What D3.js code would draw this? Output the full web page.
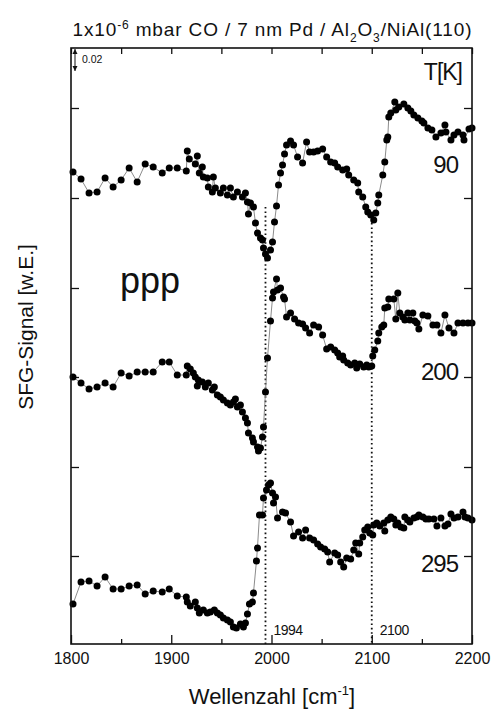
<!DOCTYPE html>
<html>
<head>
<meta charset="utf-8">
<script src="https://cdn.jsdelivr.net/npm/d3@7"></script>
<style>
body { margin: 0; background: #fff; }
svg text { font-family: "Liberation Sans", Arial, Helvetica, sans-serif; fill: #111; }
</style>
</head>
<body>
<svg id="chart" width="493" height="711"></svg>
<script>
// SFG spectra, wavenumber [cm-1] vs. signal (arb. units)
var data90 = [[1802,.474],[1810,.467],[1818,.453],[1826,.454],[1834,.468],[1842,.459],[1850,.466],[1858,.478],[1866,.464],[1874,.482],[1882,.479],[1891,.473],[1898,.478],[1906,.478],[1915,.475],[1916,.495],[1918,.487],[1924,.482],[1926,.490],[1928,.473],[1931,.479],[1932,.469],[1936,.468],[1937,.459],[1941,.454],[1942,.469],[1944,.458],[1949,.453],[1952,.458],[1956,.451],[1959,.458],[1962,.449],[1966,.454],[1971,.449],[1974,.453],[1976,.444],[1977,.432],[1979,.443],[1982,.439],[1984,.423],[1986,.413],[1989,.408],[1991,.406],[1992,.398],[1994,.392],[1996,.388],[1999,.396],[2001,.404],[2003,.424],[2005,.440],[2007,.461],[2009,.473],[2011,.481],[2013,.492],[2015,.501],[2019,.505],[2022,.501],[2026,.489],[2031,.483],[2035,.504],[2038,.494],[2042,.494],[2046,.495],[2051,.497],[2055,.489],[2059,.484],[2063,.483],[2066,.479],[2071,.476],[2075,.477],[2077,.471],[2082,.466],[2086,.463],[2087,.454],[2091,.449],[2094,.439],[2096,.434],[2099,.431],[2102,.426],[2104,.433],[2106,.443],[2107,.451],[2111,.471],[2113,.484],[2115,.506],[2116,.509],[2117,.529],[2119,.533],[2123,.544],[2124,.536],[2127,.539],[2132,.542],[2136,.538],[2139,.535],[2142,.531],[2146,.528],[2150,.525],[2152,.523],[2156,.518],[2160,.516],[2164,.509],[2169,.513],[2173,.521],[2174,.514],[2179,.506],[2182,.511],[2186,.514],[2191,.511],[2192,.506],[2197,.517],[2200,.518]];

var data200 = [[1802,.269],[1810,.263],[1818,.257],[1826,.259],[1834,.263],[1842,.259],[1850,.273],[1858,.270],[1866,.274],[1874,.274],[1882,.274],[1891,.284],[1898,.284],[1906,.271],[1915,.271],[1916,.280],[1919,.277],[1922,.273],[1924,.269],[1926,.260],[1927,.266],[1931,.264],[1934,.259],[1937,.263],[1941,.256],[1943,.259],[1946,.251],[1949,.249],[1952,.246],[1956,.243],[1959,.241],[1962,.244],[1964,.247],[1966,.239],[1969,.241],[1971,.234],[1974,.228],[1976,.223],[1977,.213],[1981,.208],[1982,.204],[1986,.199],[1987,.195],[1989,.198],[1991,.209],[1992,.219],[1994,.254],[1996,.288],[1999,.325],[2001,.348],[2002,.354],[2005,.367],[2006,.356],[2009,.358],[2012,.349],[2013,.347],[2015,.329],[2019,.333],[2023,.327],[2027,.323],[2031,.322],[2034,.318],[2038,.313],[2042,.321],[2047,.319],[2051,.311],[2055,.297],[2059,.299],[2063,.296],[2066,.293],[2068,.289],[2071,.290],[2072,.286],[2076,.283],[2079,.281],[2083,.283],[2085,.278],[2088,.282],[2092,.279],[2095,.281],[2097,.279],[2100,.280],[2101,.290],[2103,.296],[2106,.305],[2107,.313],[2110,.319],[2112,.321],[2113,.338],[2116,.339],[2117,.347],[2122,.347],[2124,.327],[2126,.353],[2128,.333],[2131,.329],[2133,.326],[2136,.333],[2138,.326],[2141,.333],[2143,.325],[2145,.323],[2147,.317],[2151,.331],[2156,.330],[2161,.321],[2165,.321],[2169,.313],[2173,.331],[2177,.318],[2182,.313],[2186,.323],[2191,.323],[2196,.323],[2200,.323]];

var data295 = [[1802,.042],[1810,.064],[1818,.065],[1826,.060],[1834,.069],[1842,.057],[1850,.057],[1858,.060],[1866,.061],[1874,.052],[1882,.055],[1891,.054],[1898,.057],[1906,.050],[1915,.049],[1916,.044],[1919,.040],[1924,.044],[1926,.038],[1928,.033],[1932,.036],[1936,.033],[1939,.034],[1943,.036],[1946,.033],[1949,.031],[1952,.028],[1956,.026],[1959,.024],[1962,.019],[1965,.018],[1969,.022],[1972,.019],[1974,.023],[1976,.032],[1978,.042],[1981,.044],[1982,.053],[1985,.085],[1986,.098],[1988,.131],[1991,.131],[1992,.148],[1995,.156],[1997,.161],[1999,.163],[2001,.153],[2002,.143],[2004,.149],[2006,.128],[2011,.134],[2014,.133],[2019,.124],[2022,.110],[2027,.114],[2031,.108],[2034,.116],[2038,.108],[2042,.106],[2046,.102],[2049,.099],[2053,.097],[2056,.094],[2058,.084],[2063,.093],[2066,.091],[2069,.084],[2072,.079],[2075,.088],[2079,.087],[2082,.096],[2084,.103],[2087,.092],[2088,.103],[2091,.109],[2093,.116],[2096,.119],[2098,.113],[2101,.111],[2102,.121],[2105,.123],[2108,.120],[2112,.123],[2113,.115],[2116,.126],[2119,.129],[2122,.127],[2124,.121],[2126,.123],[2129,.119],[2132,.118],[2133,.129],[2136,.126],[2138,.124],[2142,.128],[2145,.129],[2147,.131],[2151,.129],[2154,.127],[2157,.127],[2162,.127],[2165,.120],[2169,.128],[2173,.120],[2176,.122],[2179,.132],[2182,.128],[2186,.129],[2191,.134],[2193,.129],[2196,.128],[2200,.126]];

var temps = ["90", "200", "295"];
var xTicks = [1800, 1900, 2000, 2100, 2200];
var xMinorTicks = [1850, 1950, 2050, 2150];
var yTicks = [0.090, 0.179, 0.269, 0.358, 0.448, 0.538];
var markerLines = [1994, 2100];
var markerTops = [0.439, 0.423];

var svg = d3.select("#chart");
var pLeft = 71, pRight = 472, pTop = 48, pBottom = 644;

var x = d3.scaleLinear().domain([1800, 2200]).range([pLeft, pRight]);
var y = d3.scaleLinear().domain([0.002, 0.598]).range([pBottom, pTop]);

// title
var title = svg.append("text")
    .attr("x", 272).attr("y", 36)
    .attr("text-anchor", "middle")
    .attr("textLength", 399).attr("lengthAdjust", "spacing")
    .style("font-size", "19px");
title.append("tspan").text("1x10");
title.append("tspan").attr("dy", -7).style("font-size", "12px").text("-6");
title.append("tspan").attr("dy", 7).text(" mbar CO / 7 nm Pd / Al");
title.append("tspan").attr("dy", 6).style("font-size", "12px").text("2");
title.append("tspan").attr("dy", -6).text("O");
title.append("tspan").attr("dy", 6).style("font-size", "12px").text("3");
title.append("tspan").attr("dy", -6).text("/NiAl(110)");

// axes, ticks point inwards
function clean(g) { g.select(".domain").remove(); g.selectAll("line").attr("stroke", "#111").attr("stroke-width", 1.3); }

svg.append("g").attr("transform", "translate(0," + pBottom + ")")
    .call(d3.axisBottom(x).tickValues(xTicks).tickSize(-9).tickPadding(9).tickFormat(d3.format("d")))
    .call(clean)
    .selectAll("text").style("font-size", "16px").attr("fill", "#111");
svg.append("g").attr("transform", "translate(0," + pBottom + ")")
    .call(d3.axisBottom(x).tickValues(xMinorTicks).tickSize(-5).tickFormat(""))
    .call(clean);
svg.append("g").attr("transform", "translate(0," + pTop + ")")
    .call(d3.axisTop(x).tickValues(xTicks.concat(xMinorTicks)).tickSize(-6).tickFormat(""))
    .call(clean);
svg.append("g").attr("transform", "translate(" + pLeft + ",0)")
    .call(d3.axisLeft(y).tickValues(yTicks).tickSize(-8).tickFormat(""))
    .call(clean);
svg.append("g").attr("transform", "translate(" + pRight + ",0)")
    .call(d3.axisRight(y).tickValues(yTicks).tickSize(-8).tickFormat(""))
    .call(clean);

// dotted reference lines
markerLines.forEach(function(w, i) {
    svg.append("line")
        .attr("x1", x(w)).attr("x2", x(w))
        .attr("y1", y(markerTops[i])).attr("y2", pBottom)
        .attr("stroke", "#111").attr("stroke-width", 1.8)
        .attr("stroke-dasharray", "1.6,2.8");
    svg.append("text")
        .attr("x", x(w) + 8).attr("y", 635)
        .style("font-size", "14px").style("letter-spacing", "-0.5px")
        .text(w);
});

// spectra
var line = d3.line().x(function(d) { return x(d[0]); }).y(function(d) { return y(d[1]); });
[data90, data200, data295].forEach(function(series) {
    svg.append("path").datum(series)
        .attr("d", line)
        .attr("fill", "none")
        .attr("stroke", "#8c8c8c")
        .attr("stroke-width", 1);
    svg.append("g").selectAll("circle")
        .data(series)
        .enter()
        .append("circle")
        .attr("cx", function(d) { return x(d[0]); })
        .attr("cy", function(d) { return y(d[1]); })
        .attr("r", 3.5)
        .attr("fill", "#000");
});

// frame
svg.append("rect")
    .attr("x", pLeft).attr("y", pTop)
    .attr("width", pRight - pLeft).attr("height", pBottom - pTop)
    .attr("fill", "none").attr("stroke", "#111").attr("stroke-width", 1.6);

// scale bar 0.02
var barTop = pTop + 1, barLen = y(0) - y(0.02) + 2;
svg.append("line").attr("x1", 75).attr("x2", 75).attr("y1", barTop).attr("y2", barTop + barLen)
    .attr("stroke", "#111").attr("stroke-width", 1);
svg.append("path").attr("d", "M72.5," + (barTop + 5) + "L75," + barTop + "L77.5," + (barTop + 5) + "Z").attr("fill", "#111");
svg.append("path").attr("d", "M72.5," + (barTop + barLen - 5) + "L75," + (barTop + barLen) + "L77.5," + (barTop + barLen - 5) + "Z").attr("fill", "#111");
svg.append("text").attr("x", 82).attr("y", 63).style("font-size", "10.5px").text("0.02");

// labels
svg.append("text").attr("x", 462).attr("y", 80).attr("text-anchor", "end")
    .style("font-size", "23px").style("letter-spacing", "-1px").text("T[K]");
var tempY = [173, 380, 572];
temps.forEach(function(t, i) {
    svg.append("text").attr("x", 458).attr("y", tempY[i]).attr("text-anchor", "end")
        .style("font-size", "24px").style("letter-spacing", "-1px").text(t);
});
svg.append("text").attr("x", 120).attr("y", 293).style("font-size", "36px").text("ppp");

svg.append("text")
    .attr("transform", "translate(33,327) rotate(-90)")
    .attr("text-anchor", "middle")
    .style("font-size", "21px")
    .text("SFG-Signal [w.E.]");

var xl = svg.append("text").attr("x", 272).attr("y", 704).attr("text-anchor", "middle").style("font-size", "22px");
xl.append("tspan").text("Wellenzahl [cm");
xl.append("tspan").attr("dy", -9).style("font-size", "13px").text("-1");
xl.append("tspan").attr("dy", 9).text("]");
</script>
</body>
</html>
